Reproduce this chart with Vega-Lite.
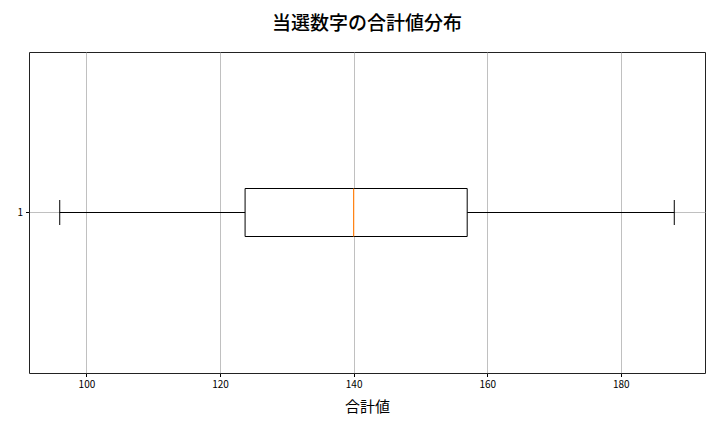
{
  "$schema": "https://vega.github.io/schema/vega-lite/v6.json",
  "autosize": "none",
  "width": 676,
  "height": 321,
  "padding": {"left": 29, "top": 52, "right": 15, "bottom": 59},
  "background": "white",
  "config": {
    "font": "Noto Sans CJK JP",
    "view": {"stroke": "#222222", "strokeWidth": 1}
  },
  "title": {
    "text": "当選数字の合計値分布",
    "fontSize": 19,
    "fontWeight": 500,
    "font": "Noto Sans CJK JP",
    "color": "#000000",
    "anchor": "middle",
    "baseline": "middle",
    "offset": 9
  },
  "data": {
    "values": [
      {"group": "1", "min": 96, "q1": 123.75, "median": 140, "q3": 157, "max": 188}
    ]
  },
  "encoding": {
    "y": {
      "field": "group",
      "type": "nominal",
      "scale": {"paddingInner": 0, "paddingOuter": 0},
      "axis": {
        "title": null,
        "labelAngle": 0,
        "labelFontSize": 10,
        "labelColor": "#000000",
        "tickColor": "#000000",
        "tickSize": 3.5,
        "labelPadding": 3,
        "domain": false,
        "grid": true,
        "gridColor": "#b0b0b0",
        "gridWidth": 0.8
      }
    }
  },
  "layer": [
    {
      "mark": {"type": "rule", "color": "#000000", "strokeWidth": 1},
      "encoding": {
        "x": {
          "field": "min",
          "type": "quantitative",
          "scale": {"domain": [91.4, 192.6], "nice": false, "zero": false},
          "axis": {
            "title": "合計値",
            "titleFontSize": 15,
            "titleFontWeight": "normal",
            "titleColor": "#000000",
            "titlePadding": 10,
            "values": [100, 120, 140, 160, 180],
            "labelFontSize": 10,
            "labelColor": "#000000",
            "tickColor": "#000000",
            "tickSize": 3.5,
            "labelPadding": 3,
            "domain": false,
            "grid": true,
            "gridColor": "#b0b0b0",
            "gridWidth": 0.8
          }
        },
        "x2": {"field": "max"}
      }
    },
    {
      "mark": {"type": "bar", "fill": "white", "stroke": "#000000", "strokeWidth": 1, "size": 48},
      "encoding": {
        "x": {"field": "q1", "type": "quantitative"},
        "x2": {"field": "q3"}
      }
    },
    {
      "mark": {"type": "tick", "orient": "vertical", "fill": "#ff7f0e", "color": "#ff7f0e", "opacity": 1, "thickness": 1.2, "size": 48},
      "encoding": {
        "x": {"field": "median", "type": "quantitative"}
      }
    },
    {
      "mark": {"type": "tick", "orient": "vertical", "color": "#000000", "opacity": 1, "thickness": 1, "size": 25},
      "encoding": {
        "x": {"field": "min", "type": "quantitative"}
      }
    },
    {
      "mark": {"type": "tick", "orient": "vertical", "color": "#000000", "opacity": 1, "thickness": 1, "size": 25},
      "encoding": {
        "x": {"field": "max", "type": "quantitative"}
      }
    }
  ]
}
